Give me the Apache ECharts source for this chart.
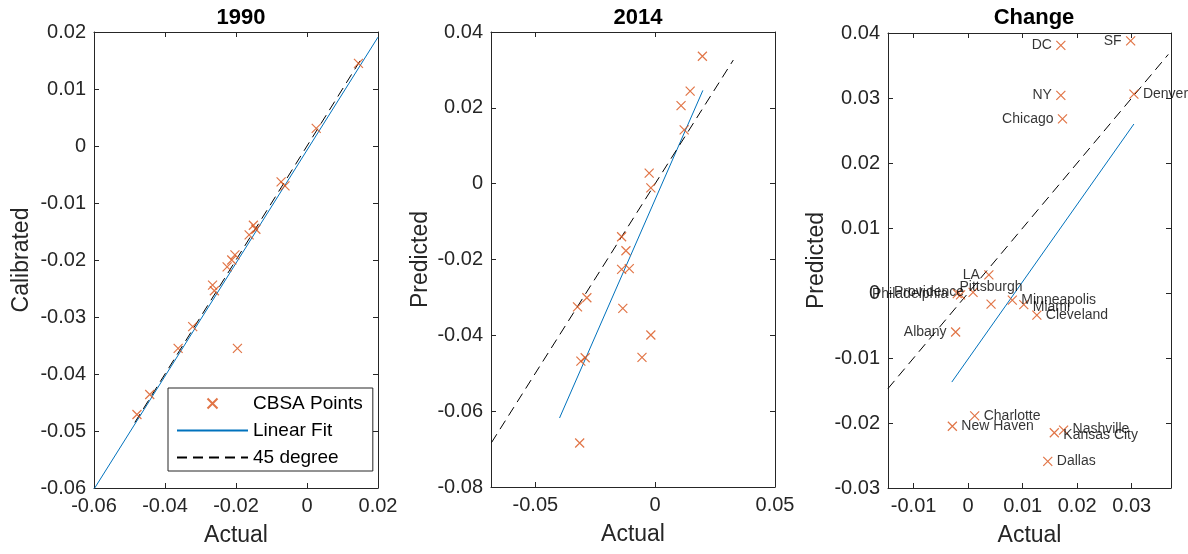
<!DOCTYPE html>
<html>
<head>
<meta charset="utf-8">
<script src="https://cdn.jsdelivr.net/npm/echarts@6/dist/echarts.min.js"></script>
<style>html,body{margin:0;padding:0;background:#fff;}#chart{width:1188px;height:554px;}</style>
</head>
<body>
<div id="chart"></div>
<script>
// ---------- Data ----------
// Panel 1: 1990
const actual1990 = [0.0145, 0.0026, -0.0073, -0.0062, -0.0151, -0.0144, -0.0163, -0.0203, -0.0212, -0.0225, -0.0266, -0.0261, -0.0322, -0.0363, -0.0196, -0.0443, -0.0479];
const calibrated1990 = [0.0145, 0.0031, -0.0063, -0.0070, -0.0139, -0.0146, -0.0156, -0.0191, -0.0200, -0.0212, -0.0244, -0.0254, -0.0317, -0.0355, -0.0355, -0.0436, -0.0471];
const fit1990X = [-0.06, 0.02];
const fit1990Y = [-0.0602, 0.0191];
const deg1990 = [-0.0485, 0.015];

// Panel 2: 2014
const actual2014 = [0.0197, 0.0146, 0.0108, 0.0121, -0.0025, -0.0018, -0.0140, -0.0122, -0.0140, -0.0108, -0.0285, -0.0324, -0.0135, -0.0018, -0.0055, -0.0310, -0.0292, -0.0315];
const predicted2014 = [0.0336, 0.0244, 0.0206, 0.0142, 0.0028, -0.0011, -0.0140, -0.0177, -0.0226, -0.0224, -0.0301, -0.0325, -0.0329, -0.0399, -0.0458, -0.0468, -0.0459, -0.0684];
const fit2014X = [-0.0399, 0.0199];
const fit2014Y = [-0.0618, 0.0246];
const deg2014 = [-0.0683, 0.0326];

// Panel 3: Change
const cbsaNames = ['DC', 'SF', 'NY', 'Denver', 'Chicago', 'LA', 'Pittsburgh', 'Providence', 'Philadelphia', '', 'Minneapolis', 'Miami', 'Cleveland', 'Albany', 'Charlotte', 'New Haven', 'Nashville', 'Kansas City', 'Dallas'];
const actualChange = [0.0170, 0.0298, 0.0170, 0.0304, 0.0173, 0.0038, -0.0014, 0.0009, -0.0020, 0.0042, 0.0081, 0.0102, 0.0126, -0.0023, 0.0012, -0.0029, 0.0175, 0.0158, 0.0146];
const predictedChange = [0.0381, 0.0388, 0.0304, 0.0306, 0.0268, 0.0028, -0.0003, 0.0001, -0.0001, -0.0017, -0.0011, -0.0018, -0.0034, -0.0060, -0.0189, -0.0205, -0.0211, -0.0215, -0.0259];
const fitChangeX = [-0.0030, 0.0304];
const fitChangeY = [-0.0137, 0.0260];
const degChange = [-0.0147, 0.0367];

// Tick labels
const ticks1990X = [-0.06, -0.04, -0.02, 0, 0.02];
const ticks1990Y = [-0.06, -0.05, -0.04, -0.03, -0.02, -0.01, 0, 0.01, 0.02];
const ticks2014X = [-0.05, 0, 0.05];
const ticks2014Y = [-0.08, -0.06, -0.04, -0.02, 0, 0.02, 0.04];
const ticksChangeX = [-0.01, 0, 0.01, 0.02, 0.03];
const ticksChangeY = [-0.03, -0.02, -0.01, 0, 0.01, 0.02, 0.03, 0.04];

// ---------- Style ----------
const FONT = "'Liberation Sans', Arial, Helvetica, sans-serif";
const AX = '#262626';
const ORANGE = '#D95319';
const BLUE = '#0072BD';
const XSYM = 'path://M0,0L10,10M10,0L0,10';
// label side for the change-panel names (styling only)
const labelSide = ['left','left','left','right','left','left','right','left','left','right','right','right','right','left','right','right','right','right','right'];
const labelShift = {'Pittsburgh': [-10, -8], 'Miami': [0, 2], 'Nashville': [0, -1], 'Kansas City': [0, 2]};

const fmt = v => String(Math.round(v * 1e6) / 1e6);

const xAxes = [], yAxes = [];
function addAxes(g, xmin, xmax, xt, ymin, ymax, yt, yname, ygap) {
  const common = (vals, show) => ({
    axisLine: {show: true, onZero: false, lineStyle: {color: AX, width: 1}},
    axisTick: {show: true, inside: true, length: 5, customValues: vals, lineStyle: {color: AX}},
    axisLabel: {show: show, customValues: vals, formatter: fmt, color: AX, fontSize: 20, fontFamily: FONT, margin: 8},
    splitLine: {show: false}
  });
  xAxes.push(Object.assign({type: 'value', gridIndex: g, min: xmin, max: xmax, position: 'bottom',
    name: 'Actual', nameLocation: 'middle', nameGap: 36,
    nameTextStyle: {color: AX, fontSize: 23, fontFamily: FONT}}, common(xt, true)));
  xAxes.push(Object.assign({type: 'value', gridIndex: g, min: xmin, max: xmax, position: 'top'}, common(xt, false)));
  yAxes.push(Object.assign({type: 'value', gridIndex: g, min: ymin, max: ymax, position: 'left',
    name: yname, nameLocation: 'middle', nameGap: ygap, nameRotate: 90,
    nameTextStyle: {color: AX, fontSize: 23, fontFamily: FONT}}, common(yt, true)));
  yAxes.push(Object.assign({type: 'value', gridIndex: g, min: ymin, max: ymax, position: 'right'}, common(yt, false)));
}
addAxes(0, -0.06, 0.02, ticks1990X, -0.06, 0.02, ticks1990Y, 'Calibrated', 61);
addAxes(1, -0.0685, 0.05, ticks2014X, -0.08, 0.04, ticks2014Y, 'Predicted', 59);
addAxes(2, -0.0147, 0.0372, ticksChangeX, -0.03, 0.04, ticksChangeY, 'Predicted', 60);

const zip = (a, b) => a.map((v, i) => [v, b[i]]);

function panelSeries(g, px, py, fx, fy, deg, labelled) {
  const pts = labelled
    ? px.map((v, i) => {
        const sh = labelShift[cbsaNames[i]] || [0, 0];
        return {value: [v, py[i]], name: cbsaNames[i],
          label: {position: labelSide[i], offset: sh}};
      })
    : zip(px, py);
  const hidden = {opacity: 0, borderWidth: 0};
  return [
    {name: 'CBSA Points', type: 'scatter', xAxisIndex: 2 * g, yAxisIndex: 2 * g,
      symbol: XSYM, symbolSize: 9,
      itemStyle: {color: 'none', borderColor: ORANGE, borderWidth: 1.2},
      label: labelled ? {show: true, formatter: p => p.name, color: '#000', fontSize: 14, fontFamily: FONT, distance: 2} : {show: false},
      data: pts, z: 3},
    {name: 'Linear Fit', type: 'line', xAxisIndex: 2 * g, yAxisIndex: 2 * g, symbol: 'circle', symbolSize: 1, showSymbol: false,
      lineStyle: {color: BLUE, width: 1, opacity: 1}, itemStyle: Object.assign({color: BLUE}, hidden), data: zip(fx, fy), z: 2},
    {name: '45 degree', type: 'line', xAxisIndex: 2 * g, yAxisIndex: 2 * g, symbol: 'circle', symbolSize: 1, showSymbol: false,
      lineStyle: {color: '#000', width: 1, type: [10, 6], opacity: 1}, itemStyle: Object.assign({color: '#000'}, hidden), data: zip(deg, deg), z: 2}
  ];
}

const series = [].concat(
  panelSeries(0, actual1990, calibrated1990, fit1990X, fit1990Y, deg1990, false),
  panelSeries(1, actual2014, predicted2014, fit2014X, fit2014Y, deg2014, false),
  panelSeries(2, actualChange, predictedChange, fitChangeX, fitChangeY, degChange, true)
);

const titleStyle = {color: '#000', fontSize: 22, fontWeight: 'bold', fontFamily: FONT};
const option = {
  animation: false,
  backgroundColor: '#fff',
  title: [
    {text: '1990', left: 236, top: 2, textAlign: 'center', textStyle: titleStyle},
    {text: '2014', left: 633, top: 2, textAlign: 'center', textStyle: titleStyle},
    {text: 'Change', left: 1029, top: 2, textAlign: 'center', textStyle: titleStyle}
  ],
  grid: [
    {left: 94, top: 32, width: 284, height: 456},
    {left: 491, top: 32, width: 284, height: 455},
    {left: 888, top: 33, width: 283, height: 455}
  ],
  xAxis: xAxes,
  yAxis: yAxes,
  legend: {
    data: ['CBSA Points', 'Linear Fit', '45 degree'],
    orient: 'vertical', left: 168, top: 388,
    backgroundColor: '#fff', borderColor: AX, borderWidth: 1,
    padding: [6, 10, 4, 8], itemWidth: 71, itemHeight: 10, itemGap: 8,
    textStyle: {color: '#000', fontSize: 19, fontFamily: FONT},
    selectedMode: false
  },
  series: series
};

const chart = echarts.init(document.getElementById('chart'), null, {renderer: 'canvas'});
chart.setOption(option);
</script>
</body>
</html>
